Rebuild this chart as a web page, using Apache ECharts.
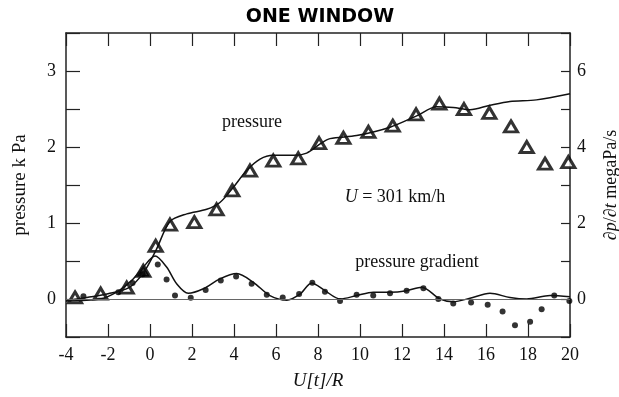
<!DOCTYPE html>
<html>
<head>
<meta charset="utf-8">
<script src="https://cdn.jsdelivr.net/npm/echarts@6/dist/echarts.min.js"></script>
<style>
html,body{margin:0;padding:0;background:#fff;}
#main{width:619px;height:397px;}
</style>
</head>
<body>
<div id="main"></div>
<script>
// pressure (kPa) - measured points (triangles)
var triX = [-3.57, -2.35, -1.11, -0.32, 0.27, 0.95, 2.11, 3.17, 3.92, 4.76, 5.87, 7.06, 8.05, 9.21, 10.40, 11.56, 12.67, 13.78, 14.95, 16.16, 17.19, 17.94, 18.81, 19.92];
var triY = [0.02, 0.07, 0.15, 0.37, 0.70, 0.98, 1.01, 1.18, 1.43, 1.69, 1.82, 1.85, 2.05, 2.12, 2.20, 2.28, 2.43, 2.57, 2.50, 2.45, 2.27, 2.00, 1.78, 1.80];
var filledTri = 3;  // the one drawn solid black

// pressure curve (kPa)
var presX = [-4, -3, -2, -1, -0.3, 0.3, 0.95, 1.75, 2.7, 3.33, 3.97, 4.6, 5.24, 5.87, 6.83, 7.46, 8.1, 8.57, 9.84, 11.43, 12.7, 13.65, 14.44, 15.24, 16.19, 17.14, 18.4, 20];
var presY = [-0.02, 0.02, 0.07, 0.15, 0.35, 0.65, 1.02, 1.12, 1.18, 1.27, 1.47, 1.69, 1.84, 1.89, 1.89, 1.92, 2.04, 2.11, 2.15, 2.26, 2.41, 2.53, 2.52, 2.49, 2.55, 2.60, 2.62, 2.70];

// pressure gradient curve (megaPa/s)
var gradX = [-4, -2.38, -1.59, -0.87, -0.32, 0.24, 0.79, 1.27, 1.82, 2.54, 3.33, 4.13, 4.92, 5.71, 6.51, 7.14, 7.7, 8.33, 9.05, 9.84, 10.63, 11.43, 12.22, 12.94, 13.81, 14.44, 15.24, 16.19, 17.14, 17.94, 19.05, 20];
var gradY = [-0.05, 0, 0.18, 0.49, 0.84, 1.13, 0.84, 0.40, 0.15, 0.27, 0.53, 0.67, 0.44, 0.09, -0.03, 0.13, 0.42, 0.22, 0.0, 0.09, 0.18, 0.18, 0.22, 0.31, 0.0, -0.07, 0.02, 0.15, 0.04, 0.0, 0.09, 0.06];

// pressure gradient - measured points (dots)
var dotX = [-3.17, -1.51, -0.83, -0.35, 0.37, 0.79, 1.19, 1.94, 2.65, 3.37, 4.10, 4.84, 5.56, 6.32, 7.1, 7.73, 8.33, 9.05, 9.84, 10.63, 11.43, 12.22, 13.02, 13.73, 14.44, 15.29, 16.08, 16.79, 17.38, 18.1, 18.65, 19.25, 19.97];
var dotY = [0.07, 0.18, 0.42, 0.65, 0.91, 0.51, 0.09, 0.03, 0.24, 0.49, 0.59, 0.40, 0.11, 0.04, 0.13, 0.43, 0.19, -0.05, 0.11, 0.09, 0.15, 0.22, 0.28, 0.0, -0.12, -0.09, -0.15, -0.33, -0.69, -0.6, -0.27, 0.09, -0.05];

function pairs(xs, ys){
    return xs.map(function(x, i){ return [x, ys[i]]; });
}

var serif = '"Liberation Serif", "DejaVu Serif", serif';
var axisCol = '#222';

var chart = echarts.init(document.getElementById('main'));

var triData = pairs(triX, triY).map(function(p, i){
    if (i === filledTri) return {value: p, itemStyle: {color: '#000'}};
    return p;
});

var option = {
    animation: false,
    backgroundColor: '#fff',
    grid: {left: 66, right: 49, top: 33, bottom: 60, containLabel: false, outerBoundsMode: 'none'},
    graphic: [
        {type: 'text', style: {text: 'ONE WINDOW', x: 320, y: 17, textAlign: 'center', textVerticalAlign: 'middle', font: 'bold 19px "DejaVu Sans", sans-serif', fill: '#000'}},
        {type: 'text', style: {text: 'pressure', x: 252, y: 122, textAlign: 'center', textVerticalAlign: 'middle', font: '18px ' + serif, fill: '#111'}},
        {type: 'text', style: {text: 'pressure gradient', x: 417, y: 262, textAlign: 'center', textVerticalAlign: 'middle', font: '18px ' + serif, fill: '#111'}},
        {type: 'text', style: {text: '{i|U} = 301 km/h', x: 395, y: 197, textAlign: 'center', textVerticalAlign: 'middle', font: '18px ' + serif, fill: '#111',
            rich: {i: {fontStyle: 'italic', fontFamily: serif, fontSize: 18}}}}
    ],
    xAxis: [{
        type: 'value', min: -4, max: 20, interval: 2, position: 'bottom',
        name: 'U[t]/R', nameLocation: 'middle', nameGap: 34,
        nameTextStyle: {fontFamily: serif, fontSize: 19, fontStyle: 'italic', color: '#111'},
        axisLine: {show: true, onZero: false, lineStyle: {color: axisCol, width: 1.5}},
        axisTick: {show: true, inside: true, length: 13, lineStyle: {color: axisCol, width: 1.2}},
        axisLabel: {fontFamily: serif, fontSize: 18, color: '#111', margin: 9,
            formatter: function(v){ return v < 0 ? '-' + Math.abs(v) : String(v); }},
        splitLine: {show: false}
    }, {
        type: 'value', min: -4, max: 20, interval: 2, position: 'top',
        axisLine: {show: true, onZero: false, lineStyle: {color: axisCol, width: 1.5}},
        axisTick: {show: true, inside: true, length: 13, lineStyle: {color: axisCol, width: 1.2}},
        axisLabel: {show: false},
        splitLine: {show: false}
    }],
    yAxis: [{
        type: 'value', min: -0.5, max: 3.5, interval: 0.5, position: 'left',
        name: 'pressure k Pa', nameLocation: 'middle', nameGap: 36,
        nameTextStyle: {fontFamily: serif, fontSize: 19, color: '#111'},
        axisLine: {show: true, onZero: false, lineStyle: {color: axisCol, width: 1.5}},
        axisTick: {show: true, inside: true, length: 14, lineStyle: {color: axisCol, width: 1.2}},
        axisLabel: {fontFamily: serif, fontSize: 18, color: '#111', margin: 10,
            formatter: function(v){ return (Math.abs(v - Math.round(v)) < 1e-6 && v >= 0) ? String(Math.round(v)) : ''; }},
        splitLine: {show: false}
    }, {
        type: 'value', min: -1, max: 7, interval: 1, position: 'right',
        name: '∂{i|p}/∂{i|t} megaPa/s', nameLocation: 'middle', nameGap: 32, nameRotate: 90,
        nameTextStyle: {fontFamily: serif, fontSize: 18, color: '#111',
            rich: {i: {fontStyle: 'italic', fontFamily: serif, fontSize: 18, color: '#111'}}},
        axisLine: {show: true, onZero: false, lineStyle: {color: axisCol, width: 1.5}},
        axisTick: {show: true, inside: true, length: 9, lineStyle: {color: axisCol, width: 1.2}},
        axisLabel: {fontFamily: serif, fontSize: 18, color: '#111', margin: 7,
            formatter: function(v){ return (v >= 0 && v % 2 === 0) ? String(v) : ''; }},
        splitLine: {show: false}
    }],
    series: [{
        name: 'pressure curve', type: 'line', xAxisIndex: 0, yAxisIndex: 0,
        data: pairs(presX, presY), smooth: 0.3, showSymbol: false,
        lineStyle: {color: '#111', width: 1.5},
        markLine: {silent: true, symbol: 'none', label: {show: false},
            lineStyle: {color: '#666', width: 1, type: 'solid'}, data: [{yAxis: 0}]}
    }, {
        name: 'gradient curve', type: 'line', xAxisIndex: 0, yAxisIndex: 1,
        data: pairs(gradX, gradY), smooth: 0.3, showSymbol: false,
        lineStyle: {color: '#111', width: 1.5}
    }, {
        name: 'gradient points', type: 'scatter', xAxisIndex: 0, yAxisIndex: 1,
        data: pairs(dotX, dotY), symbol: 'circle', symbolSize: 6,
        itemStyle: {color: '#000'}
    }, {
        name: 'pressure points', type: 'scatter', xAxisIndex: 0, yAxisIndex: 0,
        data: triData, symbol: 'triangle', symbolSize: [13, 11],
        itemStyle: {color: '#fff', borderColor: '#000', borderWidth: 3}
    }]
};

chart.setOption(option);
</script>
</body>
</html>
